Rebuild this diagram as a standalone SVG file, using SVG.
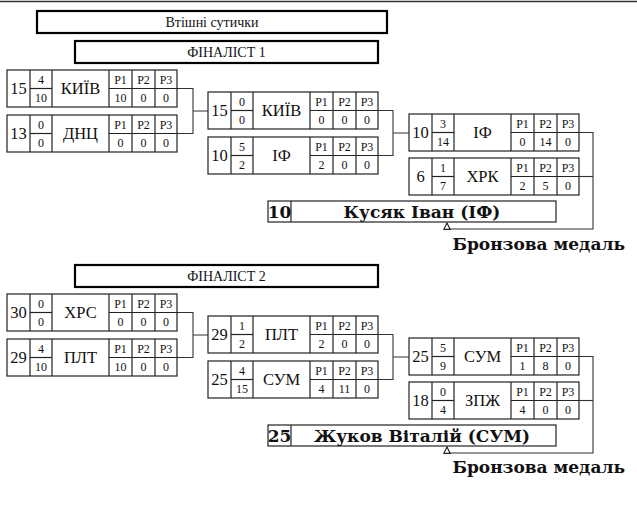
<svg xmlns="http://www.w3.org/2000/svg" xmlns:xlink="http://www.w3.org/1999/xlink" width="637" height="517" viewBox="0 0 637 517">
<style>
text{font-family:"Liberation Serif","DejaVu Serif",serif;fill:#111;text-anchor:middle;dominant-baseline:central}
.grid rect,.grid line{fill:none;stroke:#222;stroke-width:1.2}
.title{fill:#fff;stroke:#000;stroke-width:2.2}
.sc{font-size:16.5px}
.nm{font-size:16.5px}
.sm{font-size:12px}
.t{font-size:14px}
.win{fill:#fff;stroke:#222;stroke-width:1.2}
.wb{font-family:"DejaVu Serif","Liberation Serif",serif;font-size:17px;font-weight:bold}
.med{font-family:"DejaVu Serif","Liberation Serif",serif;font-size:17px;font-weight:bold;text-anchor:end}
.conn path{fill:none;stroke:#333;stroke-width:1.1}
</style>
<defs>
<g id="grid" class="grid">
<rect x="0" y="0" width="170" height="37" fill="#fff"/>
<line x1="23" y1="0" x2="23" y2="37"/>
<line x1="45" y1="0" x2="45" y2="37"/>
<line x1="102" y1="0" x2="102" y2="37"/>
<line x1="125" y1="0" x2="125" y2="37"/>
<line x1="148" y1="0" x2="148" y2="37"/>
<line x1="23" y1="18.5" x2="45" y2="18.5"/>
<line x1="102" y1="18.5" x2="170" y2="18.5"/>
</g>
<g id="plabels">
<text class="sm" x="113.5" y="9.5">P1</text>
<text class="sm" x="136.5" y="9.5">P2</text>
<text class="sm" x="159" y="9.5">P3</text>
</g>
<marker id="arr" viewBox="0 0 10 10" refX="9" refY="5" markerWidth="8" markerHeight="8" orient="auto" markerUnits="userSpaceOnUse">
<path d="M1,1 L9,5 L1,9 Z" fill="#fff" stroke="#222" stroke-width="1.4"/>
</marker>
</defs>
<line x1="0" y1="1.5" x2="637" y2="1.5" stroke="#333" stroke-width="1.5"/>

<g id="title-vtishni">
<rect class="title" x="37" y="11" width="350" height="22"/>
<text class="t" x="212" y="22">Втішні сутички</text>
</g>
<g id="title-finalist1">
<rect class="title" x="75" y="41" width="303" height="22"/>
<text class="t" x="226.5" y="52">ФІНАЛІСТ 1</text>
</g>

<g class="conn" id="connectors">
<path d="M177,88.5 H193 V133.5 H177 M193,111 H208"/>
<path d="M378,110.5 H393 V155.5 H378 M393,133 H409"/>
<path d="M579,132.5 H593 V229 H447 V223" marker-end="url(#arr)"/>
<path d="M579,176.5 H593"/>
<path d="M177,312.5 H193 V357.5 H177 M193,335 H208"/>
<path d="M378,334.5 H393 V379.5 H378 M393,357 H409"/>
<path d="M579,356.5 H593 V453 H447 V447" marker-end="url(#arr)"/>
<path d="M579,400.5 H593"/>
</g>

<!-- Section 1 -->
<g id="m1-kyiv" transform="translate(7,70)">
<use href="#grid"/><use href="#plabels"/>
<text class="sc" x="11.5" y="18.5">15</text>
<text class="sm" x="34" y="9.5">4</text><text class="sm" x="34" y="28">10</text>
<text class="nm" x="73.5" y="18.5">КИЇВ</text>
<text class="sm" x="113.5" y="28">10</text><text class="sm" x="136.5" y="28">0</text><text class="sm" x="159" y="28">0</text>
</g>
<g id="m1-dnc" transform="translate(7,115)">
<use href="#grid"/><use href="#plabels"/>
<text class="sc" x="11.5" y="18.5">13</text>
<text class="sm" x="34" y="9.5">0</text><text class="sm" x="34" y="28">0</text>
<text class="nm" x="73.5" y="18.5">ДНЦ</text>
<text class="sm" x="113.5" y="28">0</text><text class="sm" x="136.5" y="28">0</text><text class="sm" x="159" y="28">0</text>
</g>
<g id="m2-kyiv" transform="translate(208,92)">
<use href="#grid"/><use href="#plabels"/>
<text class="sc" x="11.5" y="18.5">15</text>
<text class="sm" x="34" y="9.5">0</text><text class="sm" x="34" y="28">0</text>
<text class="nm" x="73.5" y="18.5">КИЇВ</text>
<text class="sm" x="113.5" y="28">0</text><text class="sm" x="136.5" y="28">0</text><text class="sm" x="159" y="28">0</text>
</g>
<g id="m2-if" transform="translate(208,137)">
<use href="#grid"/><use href="#plabels"/>
<text class="sc" x="11.5" y="18.5">10</text>
<text class="sm" x="34" y="9.5">5</text><text class="sm" x="34" y="28">2</text>
<text class="nm" x="73.5" y="18.5">ІФ</text>
<text class="sm" x="113.5" y="28">2</text><text class="sm" x="136.5" y="28">0</text><text class="sm" x="159" y="28">0</text>
</g>
<g id="m3-if" transform="translate(409,114)">
<use href="#grid"/><use href="#plabels"/>
<text class="sc" x="11.5" y="18.5">10</text>
<text class="sm" x="34" y="9.5">3</text><text class="sm" x="34" y="28">14</text>
<text class="nm" x="73.5" y="18.5">ІФ</text>
<text class="sm" x="113.5" y="28">0</text><text class="sm" x="136.5" y="28">14</text><text class="sm" x="159" y="28">0</text>
</g>
<g id="m3-hrk" transform="translate(409,158)">
<use href="#grid"/><use href="#plabels"/>
<text class="sc" x="11.5" y="18.5">6</text>
<text class="sm" x="34" y="9.5">1</text><text class="sm" x="34" y="28">7</text>
<text class="nm" x="73.5" y="18.5">ХРК</text>
<text class="sm" x="113.5" y="28">2</text><text class="sm" x="136.5" y="28">5</text><text class="sm" x="159" y="28">0</text>
</g>
<g id="winner1">
<rect class="win" x="268" y="201" width="288" height="21"/>
<line x1="291" y1="201" x2="291" y2="222" stroke="#222" stroke-width="1.2"/>
<text class="wb" x="279.5" y="212">10</text>
<text class="wb" x="422" y="212">Кусяк Іван (ІФ)</text>
</g>
<g id="medal1"><text class="med" x="625" y="244">Бронзова медаль</text></g>

<!-- Section 2 -->
<g id="title-finalist2">
<rect class="title" x="75" y="265" width="303" height="22"/>
<text class="t" x="226.5" y="276">ФІНАЛІСТ 2</text>
</g>
<g id="m1-hrs" transform="translate(7,294)">
<use href="#grid"/><use href="#plabels"/>
<text class="sc" x="11.5" y="18.5">30</text>
<text class="sm" x="34" y="9.5">0</text><text class="sm" x="34" y="28">0</text>
<text class="nm" x="73.5" y="18.5">ХРС</text>
<text class="sm" x="113.5" y="28">0</text><text class="sm" x="136.5" y="28">0</text><text class="sm" x="159" y="28">0</text>
</g>
<g id="m1-plt" transform="translate(7,339)">
<use href="#grid"/><use href="#plabels"/>
<text class="sc" x="11.5" y="18.5">29</text>
<text class="sm" x="34" y="9.5">4</text><text class="sm" x="34" y="28">10</text>
<text class="nm" x="73.5" y="18.5">ПЛТ</text>
<text class="sm" x="113.5" y="28">10</text><text class="sm" x="136.5" y="28">0</text><text class="sm" x="159" y="28">0</text>
</g>
<g id="m2-plt" transform="translate(208,316)">
<use href="#grid"/><use href="#plabels"/>
<text class="sc" x="11.5" y="18.5">29</text>
<text class="sm" x="34" y="9.5">1</text><text class="sm" x="34" y="28">2</text>
<text class="nm" x="73.5" y="18.5">ПЛТ</text>
<text class="sm" x="113.5" y="28">2</text><text class="sm" x="136.5" y="28">0</text><text class="sm" x="159" y="28">0</text>
</g>
<g id="m2-sum" transform="translate(208,361)">
<use href="#grid"/><use href="#plabels"/>
<text class="sc" x="11.5" y="18.5">25</text>
<text class="sm" x="34" y="9.5">4</text><text class="sm" x="34" y="28">15</text>
<text class="nm" x="73.5" y="18.5">СУМ</text>
<text class="sm" x="113.5" y="28">4</text><text class="sm" x="136.5" y="28">11</text><text class="sm" x="159" y="28">0</text>
</g>
<g id="m3-sum" transform="translate(409,338)">
<use href="#grid"/><use href="#plabels"/>
<text class="sc" x="11.5" y="18.5">25</text>
<text class="sm" x="34" y="9.5">5</text><text class="sm" x="34" y="28">9</text>
<text class="nm" x="73.5" y="18.5">СУМ</text>
<text class="sm" x="113.5" y="28">1</text><text class="sm" x="136.5" y="28">8</text><text class="sm" x="159" y="28">0</text>
</g>
<g id="m3-zpzh" transform="translate(409,382)">
<use href="#grid"/><use href="#plabels"/>
<text class="sc" x="11.5" y="18.5">18</text>
<text class="sm" x="34" y="9.5">0</text><text class="sm" x="34" y="28">4</text>
<text class="nm" x="73.5" y="18.5">ЗПЖ</text>
<text class="sm" x="113.5" y="28">4</text><text class="sm" x="136.5" y="28">0</text><text class="sm" x="159" y="28">0</text>
</g>
<g id="winner2">
<rect class="win" x="268" y="425" width="288" height="21"/>
<line x1="291" y1="425" x2="291" y2="446" stroke="#222" stroke-width="1.2"/>
<text class="wb" x="279.5" y="436">25</text>
<text class="wb" x="422" y="436">Жуков Віталій (СУМ)</text>
</g>
<g id="medal2"><text class="med" x="625" y="467">Бронзова медаль</text></g>
</svg>
